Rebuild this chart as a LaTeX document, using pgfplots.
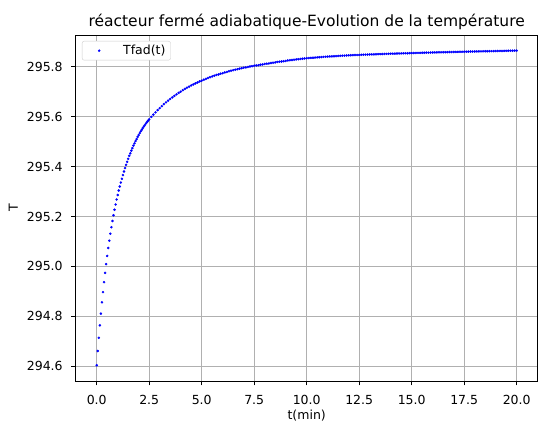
\documentclass[border=0pt]{standalone}
\usepackage{fontspec}
\setmainfont{DejaVu Sans}
\usepackage{pgfplots}
\usepackage{pgfplotstable}
\pgfplotsset{compat=1.18}

\definecolor{gridgray}{HTML}{B0B0B0}
\definecolor{legedge}{HTML}{CCCCCC}

\pgfplotsset{dotlegend/.style={legend image code/.code={
    \path[draw=none, fill=none] (0pt,-3pt) rectangle (36pt,3pt);
    \draw[##1] plot coordinates {(14pt,0pt)};
}}}

% temperature readings, t in min
\pgfplotstableread{
t T
0.00 294.604
0.05 294.661
0.10 294.714
0.15 294.764
0.20 294.811
0.25 294.856
0.30 294.897
0.35 294.937
0.40 294.974
0.45 295.009
0.50 295.042
0.55 295.074
0.60 295.103
0.65 295.131
0.70 295.157
0.75 295.182
0.80 295.205
0.85 295.227
0.90 295.248
0.95 295.268
1.00 295.286
1.05 295.304
1.10 295.320
1.15 295.336
1.20 295.351
1.25 295.366
1.30 295.380
1.35 295.394
1.40 295.407
1.45 295.419
1.50 295.431
1.55 295.443
1.60 295.453
1.65 295.464
1.70 295.474
1.75 295.484
1.80 295.493
1.85 295.502
1.90 295.510
1.95 295.519
2.00 295.526
2.05 295.534
2.10 295.541
2.15 295.548
2.20 295.555
2.25 295.561
2.30 295.567
2.35 295.573
2.40 295.579
2.45 295.584
2.50 295.589
2.6 295.599
2.7 295.608
2.8 295.617
2.9 295.626
3.0 295.634
3.1 295.642
3.2 295.650
3.3 295.657
3.4 295.664
3.5 295.671
3.6 295.677
3.7 295.683
3.8 295.689
3.9 295.695
4.0 295.700
4.1 295.706
4.2 295.711
4.3 295.716
4.4 295.720
4.5 295.725
4.6 295.729
4.7 295.733
4.8 295.737
4.9 295.741
5.0 295.744
5.1 295.748
5.2 295.751
5.3 295.755
5.4 295.758
5.5 295.761
5.6 295.764
5.7 295.767
5.8 295.769
5.9 295.772
6.0 295.774
6.1 295.777
6.2 295.779
6.3 295.782
6.4 295.784
6.5 295.786
6.6 295.788
6.7 295.790
6.8 295.792
6.9 295.794
7.0 295.796
7.1 295.797
7.2 295.799
7.3 295.801
7.4 295.802
7.5 295.804
7.6 295.805
7.7 295.806
7.8 295.808
7.9 295.809
8.0 295.811
8.1 295.812
8.2 295.813
8.3 295.815
8.4 295.816
8.5 295.817
8.6 295.819
8.7 295.820
8.8 295.821
8.9 295.822
9.0 295.823
9.1 295.825
9.2 295.826
9.3 295.827
9.4 295.828
9.5 295.829
9.6 295.830
9.7 295.831
9.8 295.832
9.9 295.833
10.0 295.8340
10.1 295.8347
10.2 295.8353
10.3 295.8360
10.4 295.8366
10.5 295.8373
10.6 295.8379
10.7 295.8386
10.8 295.8392
10.9 295.8399
11.0 295.8405
11.1 295.8410
11.2 295.8415
11.3 295.8420
11.4 295.8425
11.5 295.8430
11.6 295.8435
11.7 295.8440
11.8 295.8445
11.9 295.8450
12.0 295.8455
12.1 295.8459
12.2 295.8462
12.3 295.8466
12.4 295.8469
12.5 295.8473
12.6 295.8476
12.7 295.8480
12.8 295.8483
12.9 295.8487
13.0 295.8490
13.1 295.8493
13.2 295.8496
13.3 295.8499
13.4 295.8502
13.5 295.8505
13.6 295.8508
13.7 295.8511
13.8 295.8514
13.9 295.8517
14.0 295.8520
14.1 295.8523
14.2 295.8525
14.3 295.8528
14.4 295.8530
14.5 295.8533
14.6 295.8535
14.7 295.8538
14.8 295.8540
14.9 295.8543
15.0 295.8545
15.1 295.8548
15.2 295.8550
15.3 295.8553
15.4 295.8555
15.5 295.8558
15.6 295.8560
15.7 295.8563
15.8 295.8565
15.9 295.8568
16.0 295.8570
16.1 295.8572
16.2 295.8574
16.3 295.8576
16.4 295.8578
16.5 295.8580
16.6 295.8582
16.7 295.8584
16.8 295.8586
16.9 295.8588
17.0 295.8590
17.1 295.8592
17.2 295.8594
17.3 295.8596
17.4 295.8598
17.5 295.8600
17.6 295.8602
17.7 295.8604
17.8 295.8606
17.9 295.8608
18.0 295.8610
18.1 295.8612
18.2 295.8613
18.3 295.8615
18.4 295.8617
18.5 295.8619
18.6 295.8620
18.7 295.8622
18.8 295.8624
18.9 295.8625
19.0 295.8627
19.1 295.8629
19.2 295.8631
19.3 295.8632
19.4 295.8634
19.5 295.8636
19.6 295.8638
19.7 295.8640
19.8 295.8641
19.9 295.8643
20.0 295.8645
}\tfad

\begin{document}
\begin{tikzpicture}
\useasboundingbox (-75.7pt,-41pt) rectangle (463.3pt,381pt);
\begin{axis}[
    at={(0,0)}, anchor=south west,
    scale only axis,
    width=462pt, height=346pt,
    xmin=-1, xmax=21,
    ymin=294.541, ymax=295.927,
    xtick={0,2.5,5,7.5,10,12.5,15,17.5,20},
    ytick={294.6,294.8,295.0,295.2,295.4,295.6,295.8},
    xtick pos=bottom, ytick pos=left,
    tick align=outside,
    major tick length=4.5pt,
    every tick/.style={black, line width=0.9pt},
    axis line style={line width=0.9pt},
    grid=major,
    grid style={gridgray, line width=1pt},
    /pgf/number format/.cd, fixed, fixed zerofill, precision=1, assume math mode=true,
    /pgfplots/.cd,
    ticklabel style={font=\fontsize{12.5}{15}\selectfont},
    xticklabel style={yshift=-6.5pt},
    yticklabel style={xshift=-5pt},
    title={réacteur fermé adiabatique-Evolution de la température},
    title style={at={(axis description cs:0.5,1)}, anchor=base, yshift=2pt,
                 font=\fontsize{15.5}{18}\selectfont},
    xlabel={t(min)},
    xlabel style={at={(axis description cs:0.5,0)}, anchor=base, yshift=-39pt,
                  font=\fontsize{12.5}{15}\selectfont},
    ylabel={T},
    ylabel style={at={(axis description cs:-0.135,0.5)}, anchor=center,
                  font=\fontsize{12.5}{15}\selectfont},
    legend style={at={(axis description cs:0,1)}, anchor=north west,
                  xshift=6.3pt, yshift=-6pt,
                  inner xsep=3pt, inner ysep=2pt,
                  nodes={inner sep=2pt},
                  draw=legedge, rounded corners=2pt,
                  font=\fontsize{12.5}{15}\selectfont},
]
\addplot[only marks, mark=*, mark size=1.05pt, blue, mark options={draw=none, fill=blue},
    dotlegend] table[x=t, y=T] {\tfad};
\addlegendentry{Tfad(t)}
\end{axis}
\end{tikzpicture}
\end{document}
